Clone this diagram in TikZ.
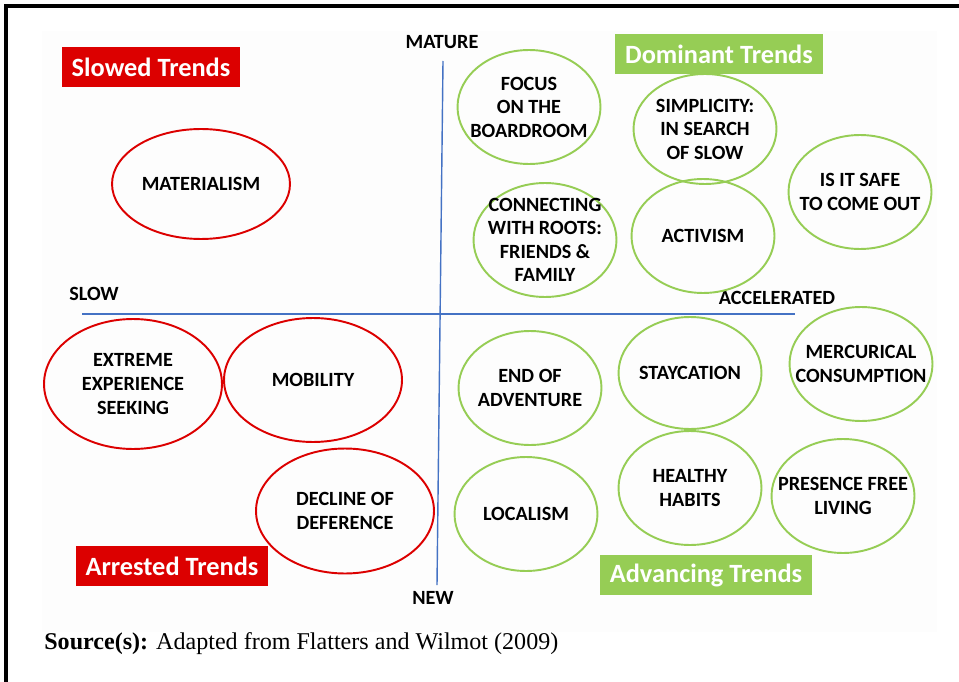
\documentclass[tikz,border=0pt]{standalone}
\usepackage{fontspec}
\setmainfont{Liberation Serif}
\newfontfamily\trendfont{Carlito}
\usepackage{tikz}
\usetikzlibrary{shapes,positioning}
\usepackage{xcolor}
\definecolor{trred}{RGB}{220,0,0}
\definecolor{trgreen}{RGB}{150,205,85}
\definecolor{trblue}{RGB}{68,114,196}
\tikzstyle{redtrend} = [ellipse, draw=trred, line width=1.1pt, minimum width=3.56cm, minimum height=2.2cm, inner xsep=-1.5cm, inner ysep=-0.8cm, align=center, font=\trendfont\bfseries\fontsize{11.5}{13.4}\selectfont]
\tikzstyle{greentrend} = [ellipse, draw=trgreen, line width=1.1pt, minimum width=2.86cm, minimum height=2.28cm, inner xsep=-1.5cm, inner ysep=-0.8cm, align=center, font=\trendfont\bfseries\fontsize{11.5}{13.4}\selectfont]
\tikzstyle{quadrant} = [rectangle, minimum height=0.8cm, inner xsep=0.2cm, text=white, font=\trendfont\bfseries\fontsize{15}{17}\selectfont]
\tikzstyle{axislabel} = [inner sep=0pt, font=\trendfont\bfseries\fontsize{11.5}{13.4}\selectfont]
\tikzstyle{axis} = [draw=trblue, line width=0.8pt]

\begin{document}
\begin{tikzpicture}[x=0.02cm, y=-0.02cm]
\useasboundingbox (0,0) rectangle (959,682);
\fill[black!0.8] (42,31) rectangle (937,632);
% frame
\coordinate (f1) at (6,682);
\coordinate (f2) at (6,6);
\coordinate (f3) at (959,6);
\draw[line width=2pt] (f1) -- (f2) -- (f3);
% axes
\coordinate (top) at (443,61);
\coordinate (bottom) at (437,585);
\coordinate (left) at (82,314);
\coordinate (right) at (795,314);
\draw[axis] (top) -- (bottom);
\draw[axis] (left) -- (right);
\node[axislabel] (mature) at (442,42) {MATURE};
\node[axislabel] (new) at (433,598) {NEW};
\node[axislabel] (slow) at (94,294) {SLOW};
\node[axislabel] (accel) at (777,298) {ACCELERATED};
% quadrant titles
\node[quadrant, fill=trred] (slowed) at (151,67) {Slowed Trends};
\node[quadrant, fill=trred] (arrested) at (172,566) {Arrested Trends};
\node[quadrant, fill=trgreen] (dominant) at (719,54) {Dominant Trends};
\node[quadrant, fill=trgreen] (advancing) at (706,575) {Advancing Trends};
% slowed
\node[redtrend] (materialism) at (201,184) {MATERIALISM};
% arrested
\node[redtrend, minimum height=2.6cm] (extreme) at (133,384) {EXTREME\\EXPERIENCE\\SEEKING};
\node[redtrend, minimum height=2.48cm] (mobility) at (313,380) {MOBILITY};
\node[redtrend, minimum height=2.5cm] (decline) at (345,511) {DECLINE OF\\DEFERENCE};
% dominant
\node[greentrend] (focus) at (529,107) {FOCUS\\ON THE\\BOARDROOM};
\node[greentrend, minimum height=2.2cm] (simplicity) at (705,129) {SIMPLICITY:\\IN SEARCH\\OF SLOW};
\node[greentrend] (safe) at (860,192) {IS IT SAFE\\TO COME OUT};
\node[greentrend] (roots) at (545,240) {CONNECTING\\WITH ROOTS:\\FRIENDS \&\\FAMILY};
\node[greentrend] (activism) at (703,236) {ACTIVISM};
% advancing
\node[greentrend] (adventure) at (530,388) {END OF\\ADVENTURE};
\node[greentrend, minimum height=2.24cm] (staycation) at (690,373) {STAYCATION};
\node[greentrend] (mercurical) at (861,364) {MERCURICAL\\CONSUMPTION};
\node[greentrend] (healthy) at (690,488) {HEALTHY\\HABITS};
\node[greentrend] (localism) at (526,514) {LOCALISM};
\node[greentrend] (presence) at (843,496) {PRESENCE FREE\\LIVING};
% source
\node[anchor=base west, inner sep=0pt, font=\fontsize{13.7}{16}\selectfont] (source) at (44,649) {\textbf{Source(s):} Adapted from Flatters and Wilmot (2009)};
\end{tikzpicture}
\end{document}
